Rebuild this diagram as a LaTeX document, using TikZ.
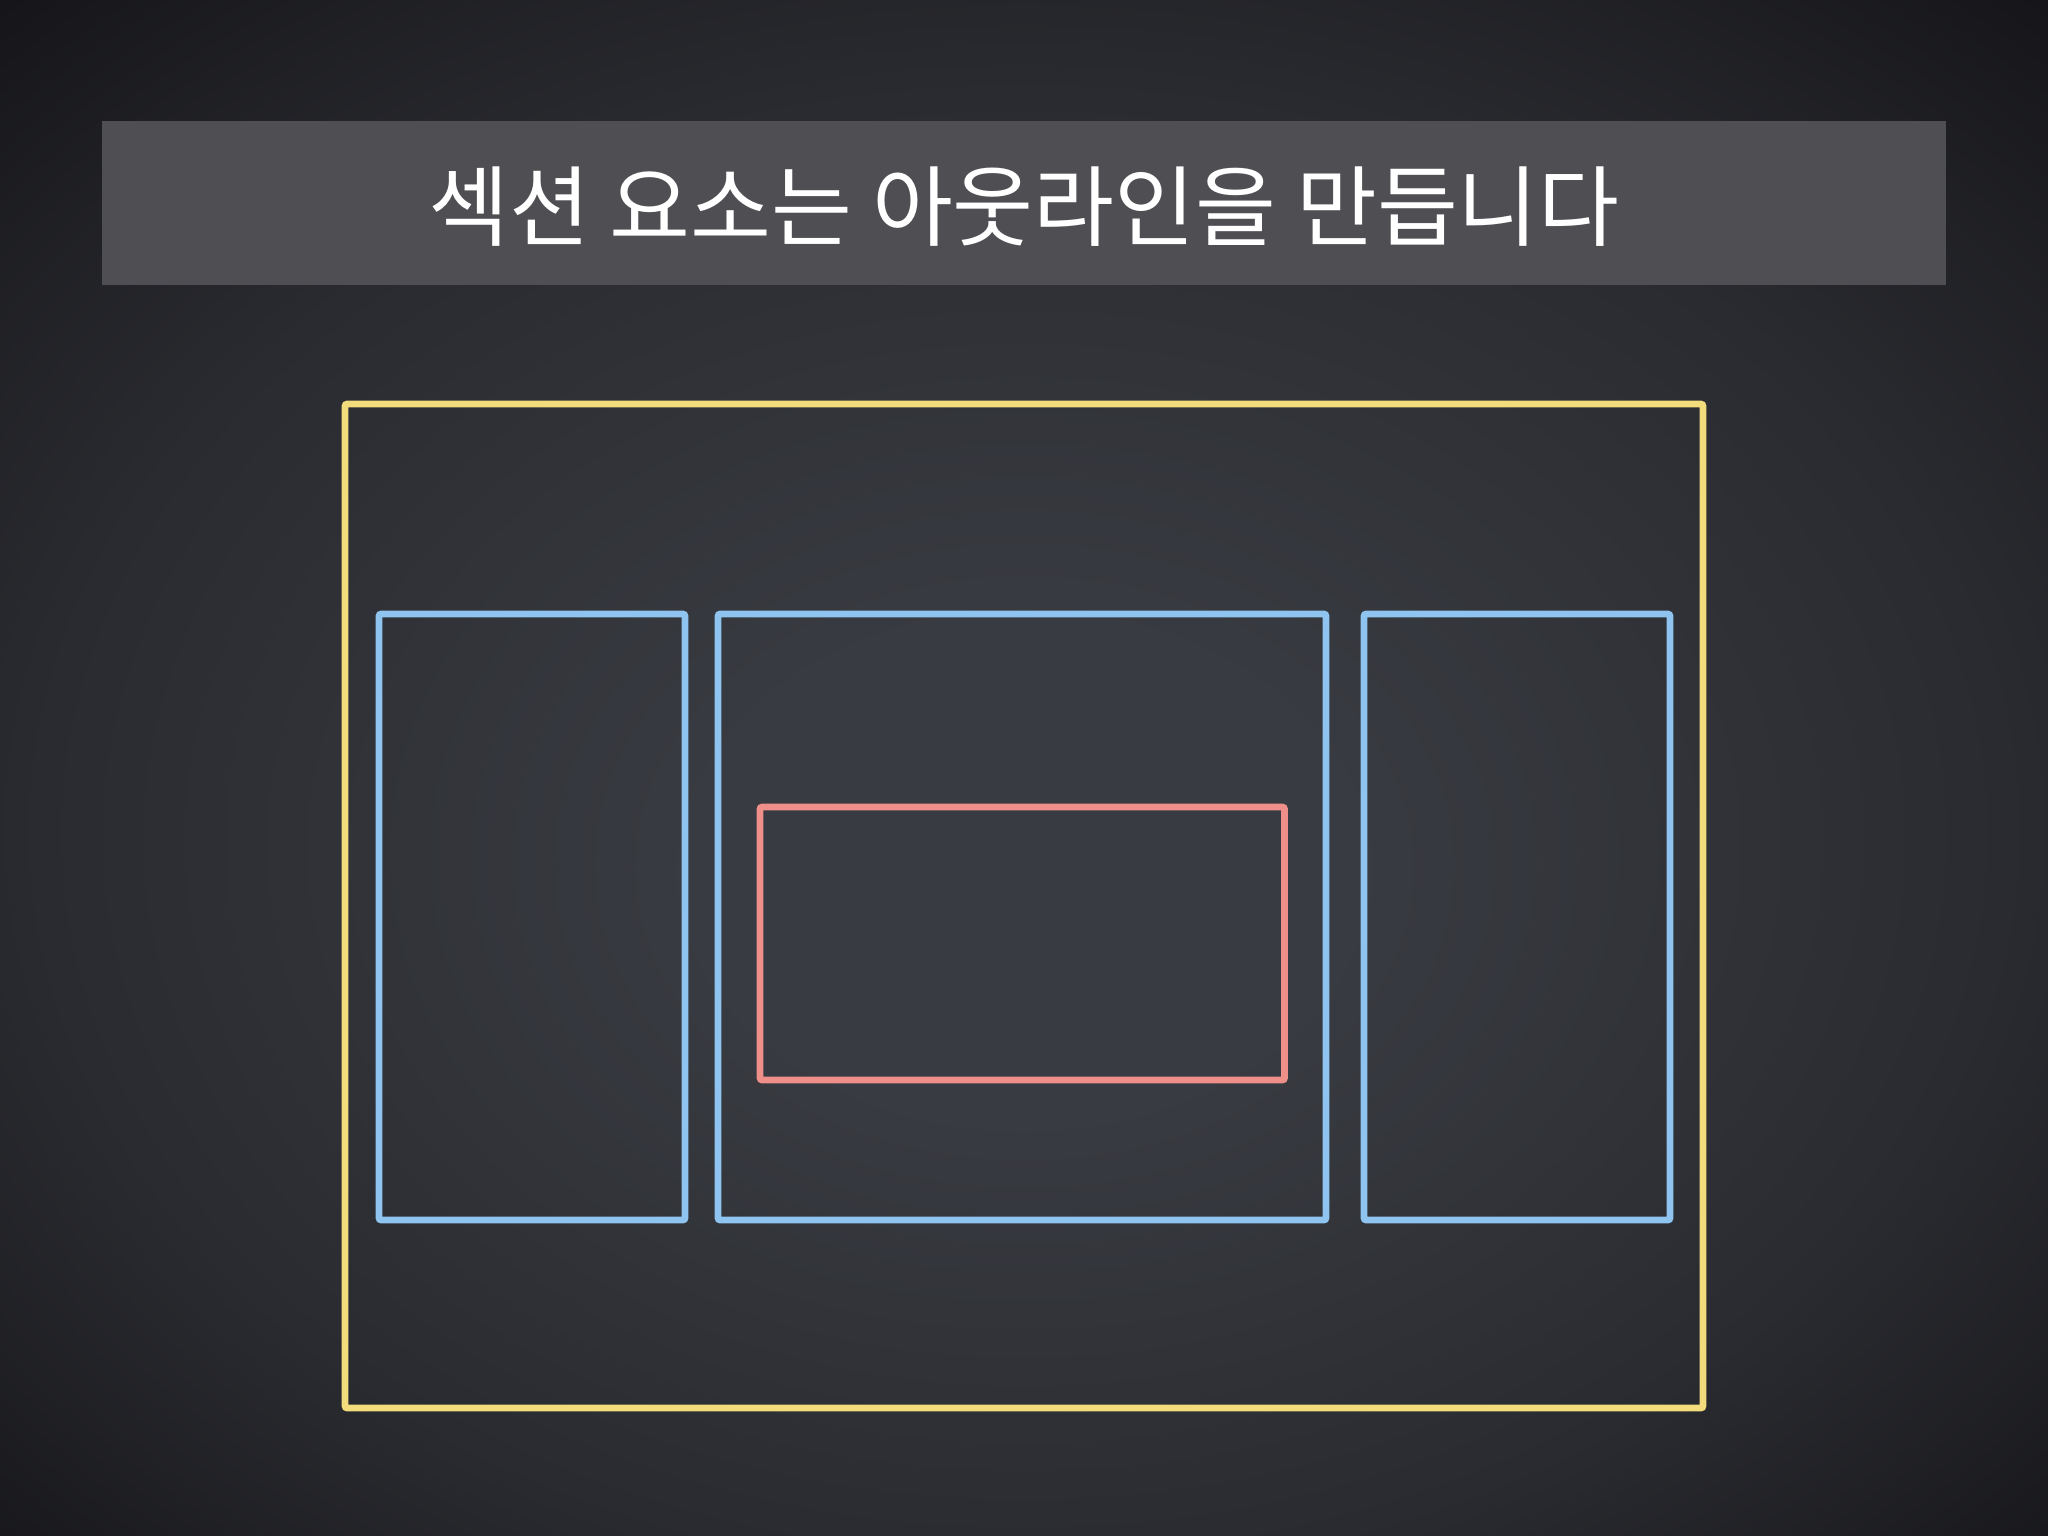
\documentclass[tikz,border=0pt]{standalone}
\usepackage{fontspec}
\newfontfamily\krfont{Noto Sans CJK KR}
\definecolor{bgin}{RGB}{56,59,65}
\definecolor{bgmid}{RGB}{42,43,48}
\definecolor{bgout}{RGB}{22,22,26}
\definecolor{barfill}{RGB}{78,78,83}
\definecolor{boxyellow}{RGB}{243,220,124}
\definecolor{boxblue}{RGB}{144,196,240}
\definecolor{boxred}{RGB}{238,143,138}
\pgfdeclareradialshading{bgshade}{\pgfpoint{0bp}{-4bp}}{color(0bp)=(bgin); color(8bp)=(bgin); color(24bp)=(bgmid); color(36bp)=(bgout); color(50bp)=(bgout)}
\tikzset{
  frame/.style={draw, line width=1.9pt, rounded corners=0.6pt},
  outerbox/.style={frame, draw=boxyellow},
  colbox/.style={frame, draw=boxblue},
  innerbox/.style={frame, draw=boxred},
  titlebar/.style={fill=barfill, draw=none},
  titletext/.style={text=white, font=\krfont\fontsize{25}{29}\selectfont}
}
\begin{document}
\begin{tikzpicture}[x=0.01cm,y=-0.01cm]
\useasboundingbox (0,0) rectangle (2048,1536);
\shade[shading=bgshade] (0,0) rectangle (2048,1536);
% title bar
\path[titlebar] (102,121) rectangle (1946,285);
\node[titletext] (title) at (1024,207) {섹션 요소는 아웃라인을 만듭니다};
% outer section box
\draw[outerbox] (345,404) rectangle (1703,1408);
% three column boxes
\draw[colbox] (379,614) rectangle (685,1220);
\draw[colbox] (718,614) rectangle (1326,1220);
\draw[colbox] (1364,614) rectangle (1670,1220);
% inner box
\draw[innerbox] (760,807) rectangle (1284.5,1080);
\end{tikzpicture}
\end{document}
